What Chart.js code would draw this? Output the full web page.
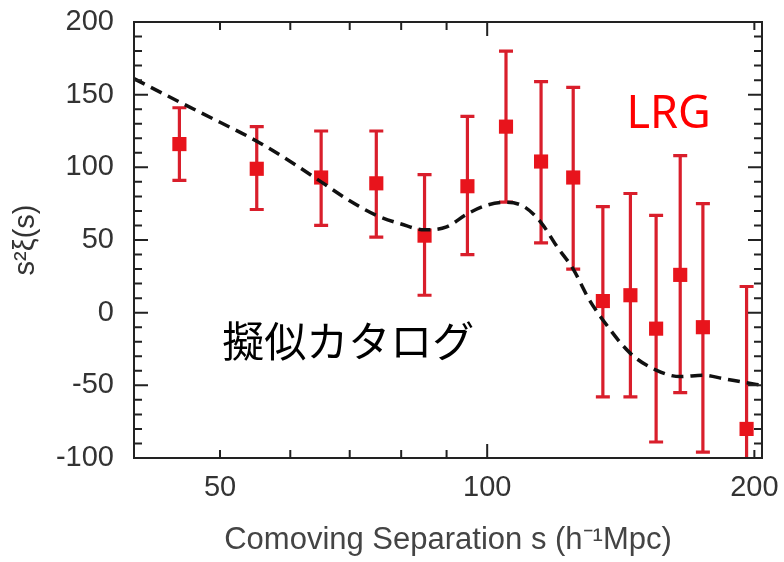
<!DOCTYPE html>
<html>
<head>
<meta charset="utf-8">
<script src="https://cdn.jsdelivr.net/npm/chart.js@4.4.0/dist/chart.umd.min.js"></script>
<style>
  body { margin: 0; background: #fff; }
  #wrap { width: 784px; height: 562px; }
</style>
</head>
<body>
<div id="wrap"><canvas id="chart" width="784" height="562"></canvas></div>
<script>
// LRG points: separation s (h^-1 Mpc), s^2 xi(s) and error bar ends
const sep = [45, 55, 65, 75, 85, 95, 105, 115, 125, 135, 145, 155, 165, 175, 196];
const xi = [116, 99, 93, 89, 53, 87, 128, 104, 93, 8, 12, -11, 26, -10, -80];
const errHigh = [141, 128, 125, 125, 95, 135, 180, 159, 155, 73, 82, 67, 108, 75, 18];
const errLow = [91, 71, 60, 52, 12, 40, 76, 48, 30, -58, -58, -89, -55, -96, -110];

// mock catalogue model (dashed curve)
const modelS = [40, 45, 50, 55, 60, 65, 70, 75, 80, 85, 90, 95, 100, 105, 110, 115, 120, 125, 130, 135, 145, 155, 165, 175, 185, 195, 204];
const modelXi = [161, 145, 131, 118, 104, 90, 77, 67, 61, 57, 59, 68, 74, 76, 73, 62, 45, 30, 10, -5, -28, -39.5, -44, -43, -45.5, -48, -50];

const xTicks = [50, 100, 200];
const yTicks = [-100, -50, 0, 50, 100, 150, 200];
const xMajor = [100];
const xMinor = [40, 50, 60, 70, 80, 90, 200];
const yMinor = [];
for (let v = -100; v <= 200; v += 10) {
    if (v % 50 !== 0) yMinor.push(v);
}

const tickFont = { family: 'Liberation Sans', size: 29 };

const errorBars = {
    id: 'errorBars',
    beforeDatasetsDraw(chart) {
        const { ctx, chartArea, scales: { x, y } } = chart;
        ctx.save();
        ctx.beginPath();
        ctx.rect(chartArea.left, chartArea.top, chartArea.width, chartArea.height);
        ctx.clip();
        ctx.strokeStyle = '#d91e2b';
        ctx.lineWidth = 3.2;
        sep.forEach((s, i) => {
            const px = x.getPixelForValue(s);
            const top = y.getPixelForValue(errHigh[i]);
            const bot = y.getPixelForValue(errLow[i]);
            ctx.beginPath();
            ctx.moveTo(px, top); ctx.lineTo(px, bot);
            ctx.moveTo(px - 7, top); ctx.lineTo(px + 7, top);
            ctx.moveTo(px - 7, bot); ctx.lineTo(px + 7, bot);
            ctx.stroke();
        });
        ctx.restore();
    }
};

// frame with inward ticks on all four sides
const frame = {
    id: 'frame',
    afterDraw(chart) {
        const { ctx, chartArea: a, scales: { x, y } } = chart;
        ctx.save();
        ctx.strokeStyle = '#222';
        ctx.lineWidth = 2;
        ctx.strokeRect(a.left, a.top, a.width, a.height);
        ctx.beginPath();
        const xt = (v, len) => {
            const px = x.getPixelForValue(v);
            ctx.moveTo(px, a.bottom); ctx.lineTo(px, a.bottom - len);
            ctx.moveTo(px, a.top); ctx.lineTo(px, a.top + len);
        };
        const yt = (v, len) => {
            const py = y.getPixelForValue(v);
            ctx.moveTo(a.left, py); ctx.lineTo(a.left + len, py);
            ctx.moveTo(a.right, py); ctx.lineTo(a.right - len, py);
        };
        xMajor.forEach(v => xt(v, 14));
        xMinor.forEach(v => xt(v, 8));
        yTicks.forEach(v => yt(v, 14));
        yMinor.forEach(v => yt(v, 8));
        ctx.stroke();
        ctx.restore();
    }
};

const labels = {
    id: 'labels',
    afterDatasetsDraw(chart) {
        const { ctx, scales: { x, y } } = chart;
        ctx.save();
        ctx.textBaseline = 'middle';
        ctx.textAlign = 'left';
        ctx.fillStyle = '#ff0000';
        ctx.font = '45px "Noto Sans"';
        ctx.fillText('LRG', x.getPixelForValue(143.5), y.getPixelForValue(136));
        ctx.fillStyle = '#000';
        ctx.font = '42px "Noto Sans CJK JP"';
        ctx.fillText('擬似カタログ', x.getPixelForValue(50.3), y.getPixelForValue(-19.5));
        ctx.restore();
    }
};

new Chart(document.getElementById('chart'), {
    type: 'scatter',
    data: {
        datasets: [
            {
                label: 'model',
                data: modelS.map((s, i) => ({ x: s, y: modelXi[i] })),
                showLine: true,
                borderColor: '#111',
                borderWidth: 3.5,
                borderDash: [12, 7],
                pointRadius: 0,
                cubicInterpolationMode: 'monotone',
                order: 0
            },
            {
                label: 'LRG',
                data: sep.map((s, i) => ({ x: s, y: xi[i] })),
                pointStyle: 'rect',
                pointRadius: 10,
                backgroundColor: '#e8141c',
                borderWidth: 0,
                order: 1
            }
        ]
    },
    options: {
        responsive: false,
        animation: false,
        layout: { padding: { left: 0, right: 22, top: 22, bottom: 0 } },
        plugins: { legend: { display: false }, tooltip: { enabled: false } },
        scales: {
            x: {
                type: 'logarithmic',
                min: 40,
                max: 204,
                grid: { display: false, drawTicks: false },
                border: { display: false },
                afterBuildTicks: s => { s.ticks = xTicks.map(v => ({ value: v })); },
                ticks: {
                    callback: v => String(v),
                    font: tickFont,
                    color: '#333',
                    padding: 13,
                    maxRotation: 0,
                    autoSkip: false
                },
                title: {
                    display: true,
                    text: 'Comoving Separation s (h⁻¹Mpc)',
                    font: { family: 'Liberation Sans', size: 31 },
                    color: '#444',
                    padding: { top: 0, bottom: 3 }
                },
                afterFit: s => { s.height = 104; s.paddingLeft = 0; s.paddingRight = 0; }
            },
            y: {
                min: -100,
                max: 200,
                grid: { display: false, drawTicks: false },
                border: { display: false },
                afterBuildTicks: s => { s.ticks = yTicks.map(v => ({ value: v })); },
                ticks: {
                    callback: v => String(v),
                    font: tickFont,
                    color: '#333',
                    padding: 20
                },
                title: {
                    display: true,
                    text: 's²ξ(s)',
                    font: { family: 'Liberation Sans', size: 29 },
                    color: '#333',
                    padding: { top: 9, bottom: 0 }
                },
                afterFit: s => { s.width = 134; s.paddingTop = 0; s.paddingBottom = 0; }
            }
        }
    },
    plugins: [errorBars, frame, labels]
});
</script>
</body>
</html>
